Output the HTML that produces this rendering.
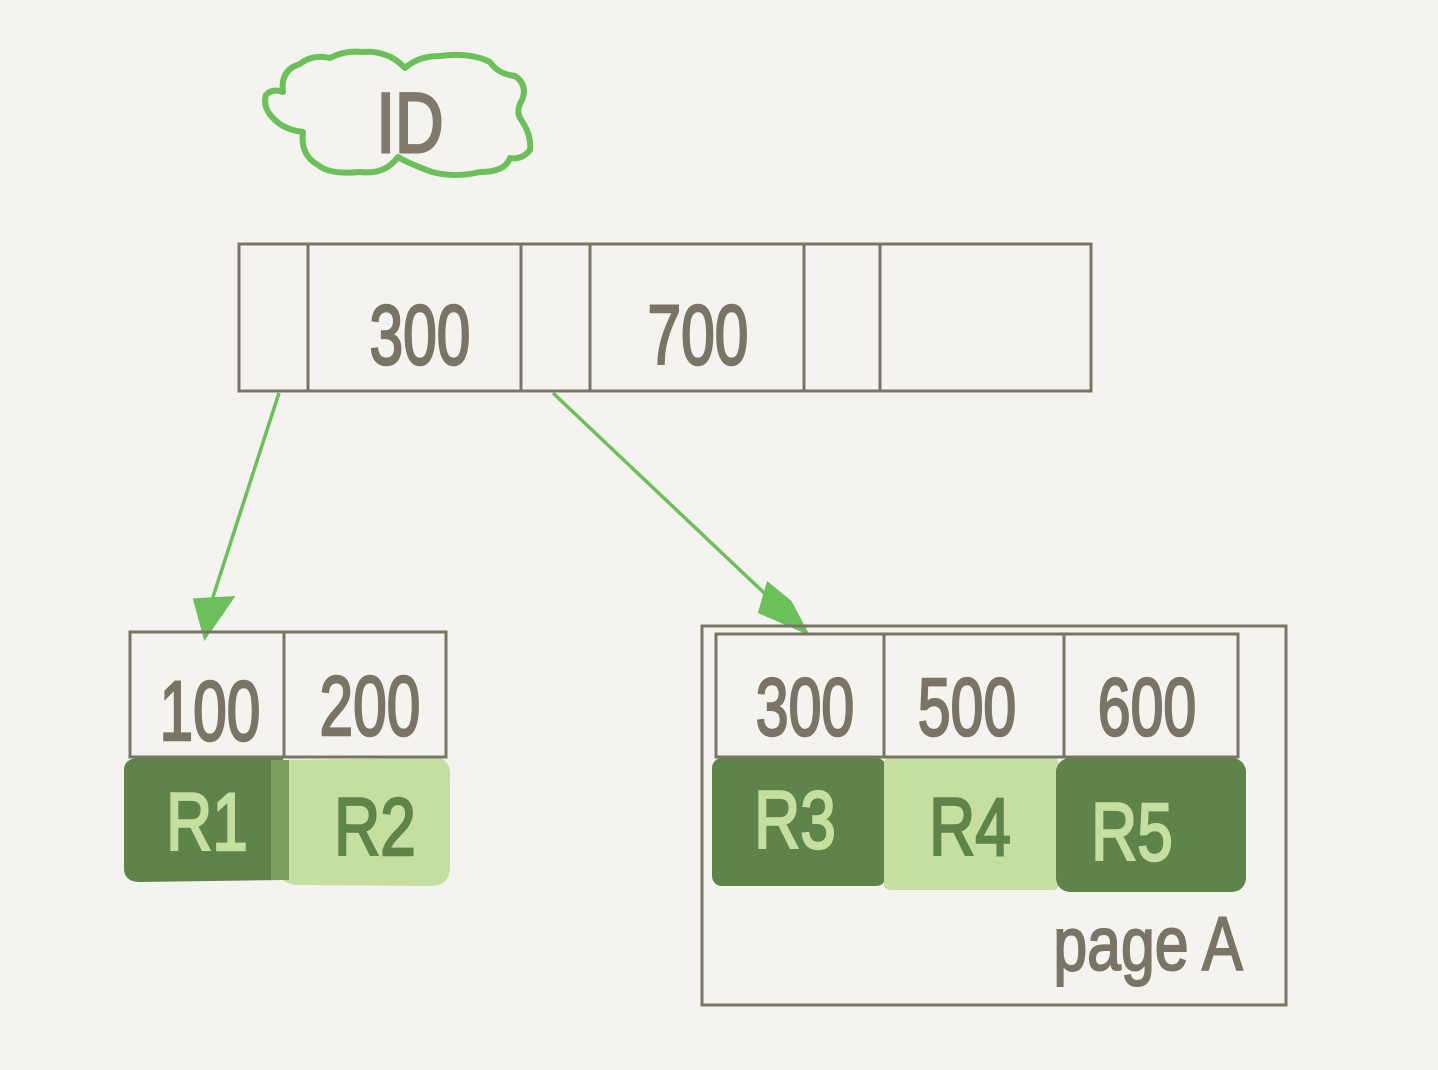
<!DOCTYPE html>
<html><head><meta charset="utf-8"><style>
html,body{margin:0;padding:0;background:#f4f3ef;}
svg{display:block}
text{font-family:"Liberation Sans Narrow","Liberation Sans",sans-serif;}
</style></head><body>
<svg width="1438" height="1070" viewBox="0 0 1438 1070">
<rect width="1438" height="1070" fill="#f4f3ef"/>
<path d="M266,95 Q272,88 283,92 Q280,70 300,64 Q312,54 330,58 Q345,50 362,52 Q388,50 405,68 Q418,56 440,56 Q470,52 490,62 Q498,74 515,76 Q528,85 522,100 Q516,110 520,118 Q532,135 530,150 Q522,160 510,158 Q505,172 480,172 Q455,178 432,172 Q410,164 398,157 Q385,175 360,172 Q330,175 318,165 Q300,155 303,132 Q285,130 275,120 Q262,108 266,95 Z" fill="none" stroke="#6cc05a" stroke-width="6" stroke-linejoin="round"/>
<text x="410" y="152" font-size="84" fill="#7f7a6c" stroke="#7f7a6c" stroke-width="3" text-anchor="middle" transform="translate(410,0) scale(0.8,1) translate(-410,0)">ID</text>
<g fill="none" stroke="#7a7466" stroke-width="3">
<rect x="239" y="244" width="852" height="147"/>
<line x1="308" y1="244" x2="308" y2="391"/><line x1="521" y1="244" x2="521" y2="391"/>
<line x1="590" y1="244" x2="590" y2="391"/><line x1="804" y1="244" x2="804" y2="391"/>
<line x1="880" y1="244" x2="880" y2="391"/>
</g>
<g font-size="84" fill="#7a7466" stroke="#7a7466" stroke-width="2.5" text-anchor="middle">
<text x="420" y="364" transform="translate(420,0) scale(0.72,1) translate(-420,0)">300</text>
<text x="698" y="364" transform="translate(698,0) scale(0.72,1) translate(-698,0)">700</text>
</g>
<g stroke="#6cc05a" stroke-width="3.5" fill="#6cc05a">
<line x1="279" y1="393" x2="212" y2="600"/>
<polygon points="195,600 232,598 205,637"/>
<line x1="553" y1="393" x2="780" y2="608"/>
<polygon points="768,584 790,602 806,632 760,612" />
</g>
<path d="M124,770 Q124,758 140,758 L283,758 L283,880 L140,882 Q124,882 124,868 Z" fill="#5e8449"/>
<path d="M278,760 L440,758 Q452,762 450,780 L450,870 Q448,886 430,886 L295,885 Q278,882 278,870 Z" fill="#c5dfa0"/>
<rect x="271" y="760" width="18" height="120" fill="#7aa05e"/>
<g fill="none" stroke="#7a7466" stroke-width="3">
<rect x="130" y="632" width="316" height="125"/>
<line x1="284" y1="632" x2="284" y2="757"/>
</g>
<g font-size="84" fill="#7a7466" stroke="#7a7466" stroke-width="2.5" text-anchor="middle">
<text x="210" y="740" transform="translate(210,0) scale(0.72,1) translate(-210,0)">100</text>
<text x="370" y="735" transform="translate(370,0) scale(0.72,1) translate(-370,0)">200</text>
</g>
<g font-size="82" text-anchor="middle" stroke-width="2.5">
<text x="207" y="850" fill="#c5dfa0" stroke="#c5dfa0" transform="translate(207,0) scale(0.78,1) translate(-207,0)">R1</text>
<text x="375" y="855" fill="#5e8449" stroke="#5e8449" transform="translate(375,0) scale(0.78,1) translate(-375,0)">R2</text>
</g>
<rect x="712" y="758" width="174" height="128" rx="10" fill="#5e8449"/>
<rect x="884" y="758" width="175" height="132" rx="6" fill="#c5dfa0"/>
<rect x="1056" y="758" width="190" height="134" rx="14" fill="#5e8449"/>
<g fill="none" stroke="#7a7466" stroke-width="3">
<rect x="702" y="626" width="584" height="379"/>
<rect x="716" y="634" width="522" height="123"/>
<line x1="884" y1="634" x2="884" y2="757"/><line x1="1064" y1="634" x2="1064" y2="757"/>
</g>
<g font-size="82" fill="#7a7466" stroke="#7a7466" stroke-width="2.5" text-anchor="middle">
<text x="805" y="735" transform="translate(805,0) scale(0.72,1) translate(-805,0)">300</text>
<text x="967" y="735" transform="translate(967,0) scale(0.72,1) translate(-967,0)">500</text>
<text x="1147" y="735" transform="translate(1147,0) scale(0.72,1) translate(-1147,0)">600</text>
</g>
<g font-size="82" text-anchor="middle" stroke-width="2.5">
<text x="795" y="848" fill="#c5dfa0" stroke="#c5dfa0" transform="translate(795,0) scale(0.78,1) translate(-795,0)">R3</text>
<text x="970" y="855" fill="#5e8449" stroke="#5e8449" transform="translate(970,0) scale(0.78,1) translate(-970,0)">R4</text>
<text x="1132" y="860" fill="#c5dfa0" stroke="#c5dfa0" transform="translate(1132,0) scale(0.78,1) translate(-1132,0)">R5</text>
</g>
<text x="1148" y="970" font-size="76" fill="#7a7466" stroke="#7a7466" stroke-width="2" text-anchor="middle" transform="translate(1148,0) scale(0.8,1) translate(-1148,0)">page A</text>
</svg>
</body></html>
